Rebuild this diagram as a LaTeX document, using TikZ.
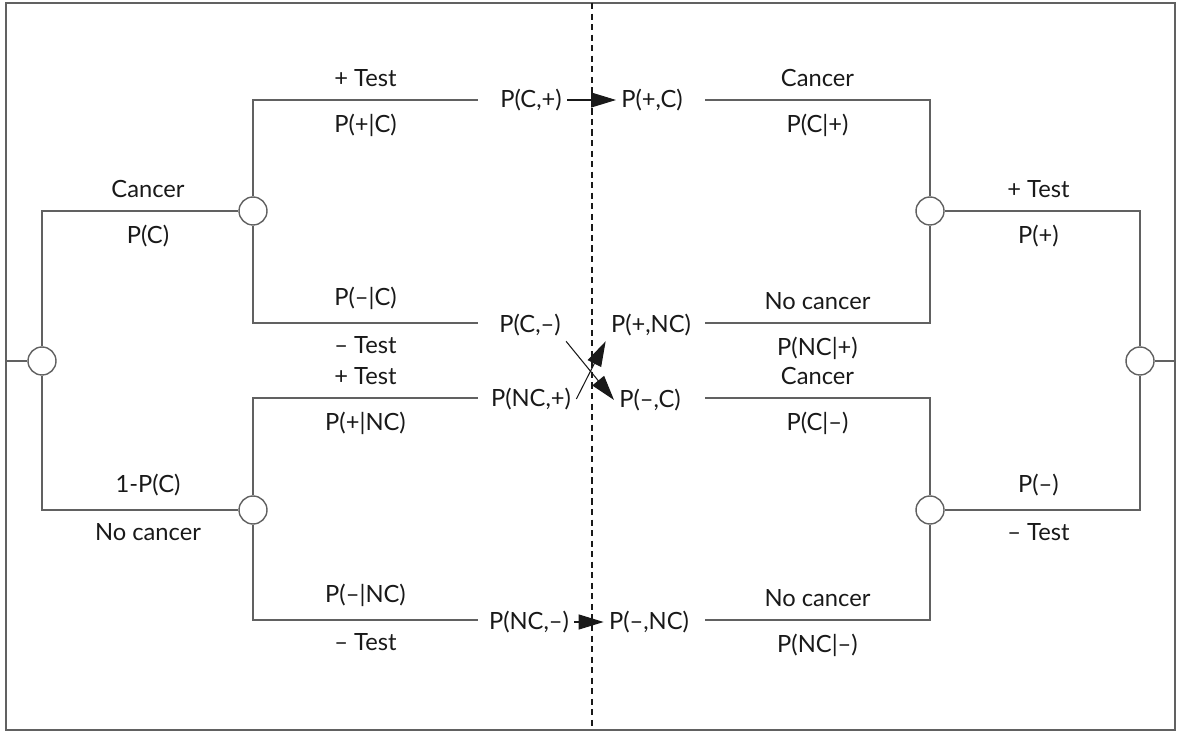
\documentclass[tikz,border=0pt]{standalone}
\usepackage{fontspec}
\setmainfont{Lato}
\usetikzlibrary{arrows.meta}
\definecolor{linegray}{gray}{0.38}
\definecolor{textgray}{gray}{0.1}
\tikzset{
  chance/.style={circle,draw=linegray,fill=white,line width=0.8pt,minimum size=0.56cm,inner sep=0pt},
  branch/.style={draw=linegray,line width=0.8pt},
  lbl/.style={font=\fontsize{13.5}{16}\selectfont,text=textgray,inner sep=0pt},
  joint/.style={lbl,inner sep=0.1cm},
  swap/.style={-{Triangle[length=0.5cm,width=0.3cm]},line width=0.6pt,textgray}
}
\begin{document}
\begin{tikzpicture}[x=0.02cm,y=-0.02cm]
      \useasboundingbox (0,0) rectangle (1182,732);
      \draw[linegray,line width=0.8pt] (6,3) rectangle (1175,730);
      \draw[textgray,dashed,dash pattern=on 3.5pt off 2.5pt,line width=0.6pt] (592,3) -- (592,730);

      % CHANCE NODES
      \node[chance] (root)  at (42,361)   {};
      \node[chance] (cC)    at (253,211)  {};
      \node[chance] (cNC)   at (253,510)  {};
      \node[chance] (rP)    at (930,211)  {};
      \node[chance] (rM)    at (930,510)  {};
      \node[chance] (rroot) at (1140,361) {};

      \coordinate (lb) at (6,361);     % border ends
      \coordinate (rb) at (1175,361);

      % line ends next to the joint terms
      \coordinate (eCp)  at (478,100);
      \coordinate (eCm)  at (478,323);
      \coordinate (eNCp) at (478,398);
      \coordinate (eNCm) at (478,620);
      \coordinate (spC)  at (705,100);
      \coordinate (spNC) at (705,323);
      \coordinate (smC)  at (705,398);
      \coordinate (smNC) at (705,620);

      % JOINT TERMS
      \node[joint] (jCp)  at (531,100) {P(C,+)};
      \node[joint] (jpC)  at (652,100) {P(+,C)};
      \node[joint] (jCm)  at (530,325) {P(C,–)};
      \node[joint] (jpNC) at (651,325) {P(+,NC)};
      \node[joint] (jNCp) at (531,399) {P(NC,+)};
      \node[joint] (jmC)  at (650,400) {P(–,C)};
      \node[joint] (jNCm) at (529,622) {P(NC,–)};
      \node[joint] (jmNC) at (649,622) {P(–,NC)};

      % LEFT TREE
      \draw[branch] (root) -- (lb);
      \draw[branch] (root) |- (cC)
      node[lbl,pos=0.77,above=0.26cm] {Cancer}
      node[lbl,pos=0.77,below=0.26cm] {P(C)};
      \draw[branch] (root) |- (cNC)
      node[lbl,pos=0.77,above=0.26cm] {1-P(C)}
      node[lbl,pos=0.77,below=0.26cm] {No cancer};
      \draw[branch] (cC) |- (eCp)
      node[lbl,pos=0.75,above=0.26cm] {+ Test}
      node[lbl,pos=0.75,below=0.26cm] {P(+|C)};
      \draw[branch] (cC) |- (eCm)
      node[lbl,pos=0.75,above=0.26cm] {P(–|C)}
      node[lbl,pos=0.75,below=0.26cm] {– Test};
      \draw[branch] (cNC) |- (eNCp)
      node[lbl,pos=0.75,above=0.26cm] {+ Test}
      node[lbl,pos=0.75,below=0.26cm] {P(+|NC)};
      \draw[branch] (cNC) |- (eNCm)
      node[lbl,pos=0.75,above=0.26cm] {P(–|NC)}
      node[lbl,pos=0.75,below=0.26cm] {– Test};

      % RIGHT TREE
      \draw[branch] (spC) -| (rP)
      node[lbl,pos=0.25,above=0.26cm] {Cancer}
      node[lbl,pos=0.25,below=0.26cm] {P(C|+)};
      \draw[branch] (spNC) -| (rP)
      node[lbl,pos=0.25,above=0.26cm] {No cancer}
      node[lbl,pos=0.25,below=0.26cm] {P(NC|+)};
      \draw[branch] (smC) -| (rM)
      node[lbl,pos=0.25,above=0.26cm] {Cancer}
      node[lbl,pos=0.25,below=0.26cm] {P(C|–)};
      \draw[branch] (smNC) -| (rM)
      node[lbl,pos=0.25,above=0.26cm] {No cancer}
      node[lbl,pos=0.25,below=0.26cm] {P(NC|–)};
      \draw[branch] (rP) -| (rroot)
      node[lbl,pos=0.24,above=0.26cm] {+ Test}
      node[lbl,pos=0.24,below=0.26cm] {P(+)};
      \draw[branch] (rM) -| (rroot)
      node[lbl,pos=0.24,above=0.26cm] {P(–)}
      node[lbl,pos=0.24,below=0.26cm] {– Test};
      \draw[branch] (rroot) -- (rb);

      % ARROWS
      \draw[swap] (jCp) -- (jpC);
      \draw[swap] (jNCm) -- (jmNC);
      \draw[swap] (jCm.south east) -- (jmC.west);
      \draw[swap] (jNCp.east) -- (jpNC.south west);

\end{tikzpicture}
\end{document}
